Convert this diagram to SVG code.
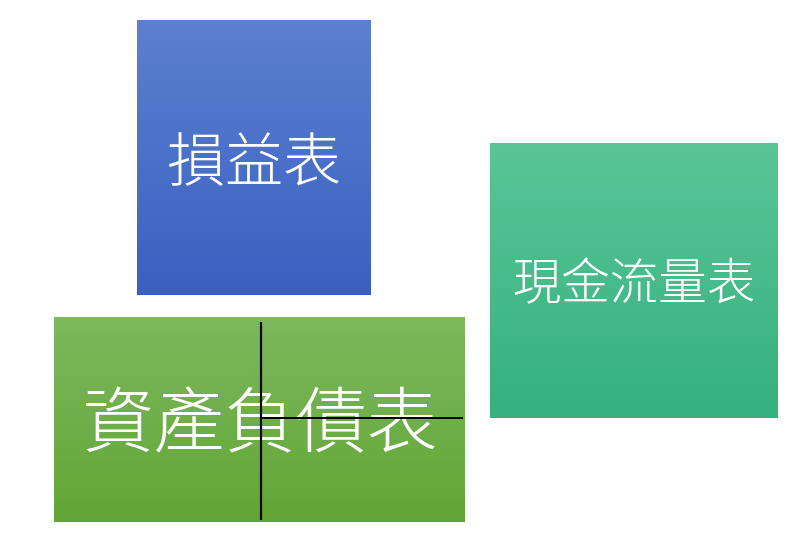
<svg xmlns="http://www.w3.org/2000/svg" width="800" height="543" viewBox="0 0 800 543">
<style>
.lbl{fill:#ffffff;font-family:"Noto Sans CJK TC","Noto Sans CJK SC",sans-serif;font-weight:300;text-anchor:middle;}
.ln{stroke:#000000;stroke-width:2.2;fill:none;}
</style>
<defs>
<linearGradient id="gBlue" x1="0" y1="0" x2="0" y2="1">
<stop offset="0" stop-color="#5b80d0"/>
<stop offset="1" stop-color="#3960c0"/>
</linearGradient>
<linearGradient id="gGreen" x1="0" y1="0" x2="0" y2="1">
<stop offset="0" stop-color="#7db85d"/>
<stop offset="1" stop-color="#61a535"/>
</linearGradient>
<linearGradient id="gTeal" x1="0" y1="0" x2="0" y2="1">
<stop offset="0" stop-color="#5ac596"/>
<stop offset="1" stop-color="#34b17d"/>
</linearGradient>
</defs>
<rect width="800" height="543" fill="#ffffff"/>
<g id="income">
<rect x="137" y="20" width="234" height="275" fill="url(#gBlue)"/>
<text class="lbl" x="254" y="181" font-size="58">損益表</text>
</g>
<g id="balance">
<rect x="54" y="317" width="411" height="205" fill="url(#gGreen)"/>
<text class="lbl" x="260" y="446" font-size="71">資產負債表</text>
</g>
<g id="cashflow">
<rect x="490" y="143" width="288" height="275" fill="url(#gTeal)"/>
<text class="lbl" x="634" y="299" font-size="48.5">現金流量表</text>
</g>
<g id="connectors">
<line class="ln" x1="261" y1="322" x2="261" y2="520"/>
<line class="ln" x1="261" y1="418" x2="463" y2="418"/>
</g>
</svg>
